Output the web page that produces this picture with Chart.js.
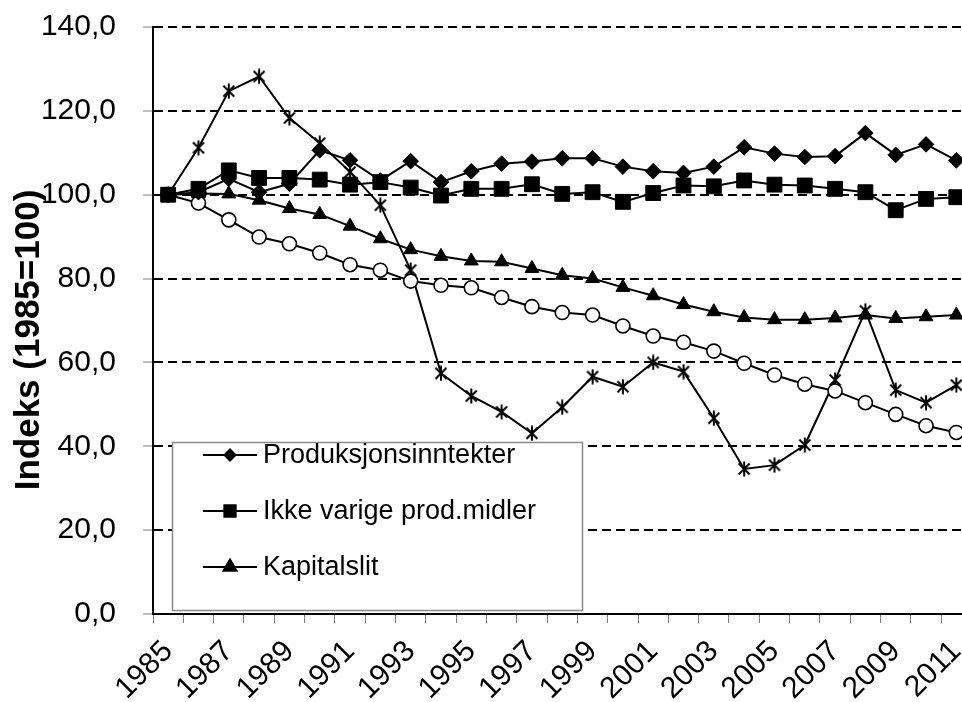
<!DOCTYPE html>
<html>
<head>
<meta charset="utf-8">
<script src="https://cdn.jsdelivr.net/npm/chart.js@4.4.1/dist/chart.umd.min.js"></script>
<style>
  html, body { margin: 0; padding: 0; background: #fff; overflow: hidden; }
  #wrap { width: 983px; height: 702px; }
</style>
</head>
<body>
<div id="wrap"><canvas id="indeksChart" width="983" height="702"></canvas></div>
<script>
// Index values, 1985 = 100
const years = ['1985','1986','1987','1988','1989','1990','1991','1992','1993','1994','1995','1996','1997',
  '1998','1999','2000','2001','2002','2003','2004','2005','2006','2007','2008','2009','2010','2011'];

const produksjonsinntekter = [100, 100.6, 103.8, 100.6, 102.6, 110.6, 108.2, 103.4, 108.0, 103.0, 105.6, 107.4, 107.9,
  108.7, 108.7, 106.7, 105.6, 105.2, 106.7, 111.3, 109.8, 109.0, 109.2, 114.7, 109.5, 112.0, 108.2];

const ikkeVarige = [100, 101.4, 105.8, 104.0, 104.0, 103.6, 102.4, 103.0, 101.7, 99.8, 101.4, 101.4, 102.5,
  100.2, 100.6, 98.3, 100.4, 102.2, 102.0, 103.4, 102.4, 102.2, 101.4, 100.6, 96.3, 99.0, 99.4];

const kapitalslit = [100, 100.3, 100.2, 98.7, 96.7, 95.3, 92.5, 89.5, 86.9, 85.3, 84.2, 84.0, 82.4,
  80.8, 80.0, 77.9, 75.9, 73.8, 72.1, 70.7, 70.2, 70.2, 70.6, 71.3, 70.5, 70.9, 71.3];

const serie4 = [100, 98.0, 94.0, 89.9, 88.3, 86.1, 83.3, 82.0, 79.4, 78.4, 77.8, 75.5, 73.3,
  71.9, 71.3, 68.7, 66.3, 64.8, 62.7, 59.8, 57.0, 54.8, 53.2, 50.4, 47.6, 44.9, 43.3];

const serie5 = [100, 111.2, 124.7, 128.2, 118.3, 112.3, 105.4, 97.5, 82.0, 57.4, 52.0, 48.2, 43.1,
  49.3, 56.6, 54.2, 60.0, 57.8, 46.7, 34.6, 35.5, 40.3, 55.8, 72.3, 53.4, 50.4, 54.6];

const yTitle = 'Indeks (1985=100)';

const FONT = "'Liberation Sans', Arial, sans-serif";

// Excel style star marker: an x with a vertical bar
function starMarker() {
  const c = document.createElement('canvas');
  c.width = 16; c.height = 16;
  const g = c.getContext('2d');
  g.strokeStyle = '#000';
  g.lineWidth = 2;
  g.beginPath();
  g.moveTo(2.5, 2.5); g.lineTo(13.5, 13.5);
  g.moveTo(13.5, 2.5); g.lineTo(2.5, 13.5);
  g.moveTo(8, 0.5); g.lineTo(8, 15.5);
  g.stroke();
  return c;
}

function series(label, data, style, radius, fill) {
  return {
    label,
    data,
    borderColor: '#000',
    borderWidth: 2,
    pointStyle: style,
    pointRadius: radius,
    pointBackgroundColor: fill,
    pointBorderColor: '#000',
    pointBorderWidth: style === 'circle' ? 1.6 : 1,
    tension: 0
  };
}

const legendSizes = [5.5, 8, 7.5];

const boxLegend = {
  id: 'boxLegend',
  afterDatasetsDraw(chart) {
    const ctx = chart.ctx;
    const x0 = 172.5, y0 = 442.5, w = 410, h = 168;
    ctx.save();
    ctx.fillStyle = '#fff';
    ctx.fillRect(x0, y0, w, h);
    ctx.strokeStyle = '#8a8a8a';
    ctx.lineWidth = 1.5;
    ctx.strokeRect(x0, y0, w, h);

    ctx.font = '27px ' + FONT;
    ctx.textBaseline = 'middle';
    ctx.textAlign = 'left';
    chart.data.datasets.slice(0, 3).forEach((ds, i) => {
      const y = 455 + i * 56;
      ctx.strokeStyle = '#000';
      ctx.lineWidth = 2;
      ctx.beginPath();
      ctx.moveTo(203, y);
      ctx.lineTo(257, y);
      ctx.stroke();
      ctx.fillStyle = '#000';
      Chart.helpers.drawPoint(ctx, {
        pointStyle: ds.pointStyle,
        radius: legendSizes[i],
        rotation: 0,
        borderWidth: 1
      }, 230, y);
      ctx.fill();
      ctx.fillStyle = '#000';
      ctx.fillText(ds.label, 263, y + 1);
    });
    ctx.restore();
  }
};

// y axis title, placed like the Excel original (a bit below the plot centre)
const axisTitle = {
  id: 'axisTitle',
  afterDraw(chart) {
    const ctx = chart.ctx;
    ctx.save();
    ctx.translate(29, 340);
    ctx.rotate(-Math.PI / 2);
    ctx.font = 'bold 35px ' + FONT;
    ctx.fillStyle = '#000';
    ctx.textAlign = 'center';
    ctx.textBaseline = 'middle';
    ctx.fillText(yTitle, 0, 0);
    ctx.restore();
  }
};

const ctx = document.getElementById('indeksChart').getContext('2d');

window.indeksChartInstance = new Chart(ctx, {
  type: 'line',
  data: {
    labels: years,
    datasets: [
      series('Produksjonsinntekter', produksjonsinntekter, 'rectRot', 7.8, '#000'),
      series('Ikke varige prod.midler', ikkeVarige, 'rect', 10.5, '#000'),
      series('Kapitalslit', kapitalslit, 'triangle', 8, '#000'),
      series('Serie 4', serie4, 'circle', 7, '#fff'),
      series('Serie 5', serie5, starMarker(), 8, '#000')
    ]
  },
  options: {
    responsive: false,
    animation: false,
    layout: { padding: 0 },
    plugins: {
      legend: { display: false },
      tooltip: { enabled: false }
    },
    scales: {
      x: {
        offset: true,
        grid: {
          offset: true,
          drawOnChartArea: false,
          drawTicks: true,
          tickLength: 9,
          tickColor: '#808080',
          tickWidth: 1
        },
        border: { display: true, color: '#000', width: 2 },
        ticks: {
          autoSkip: false,
          minRotation: 45,
          maxRotation: 45,
          padding: 11,
          color: '#000',
          font: { family: FONT, size: 30 },
          callback: (v, i) => (i % 2 === 0 ? years[i] : '')
        },
        afterFit: (scale) => {
          scale.height = 88;
          scale.paddingLeft = 0;
          scale.paddingRight = 0;
        }
      },
      y: {
        min: 0,
        max: 140,
        grid: {
          color: '#000',
          lineWidth: 2,
          drawTicks: true,
          tickLength: 10,
          tickColor: '#808080',
          tickWidth: 1,
          tickBorderDash: [1, 0]
        },
        border: { display: true, color: '#000', width: 2, dash: [9, 5] },
        ticks: {
          stepSize: 20,
          padding: 27,
          color: '#000',
          font: { family: FONT, size: 30 },
          callback: (v) => v.toFixed(1).replace('.', ',')
        },
        afterFit: (scale) => {
          scale.width = 153;
          scale.paddingTop = 27;
          scale.paddingBottom = 0;
        }
      }
    }
  },
  plugins: [boxLegend, axisTitle]
});
</script>
</body>
</html>
